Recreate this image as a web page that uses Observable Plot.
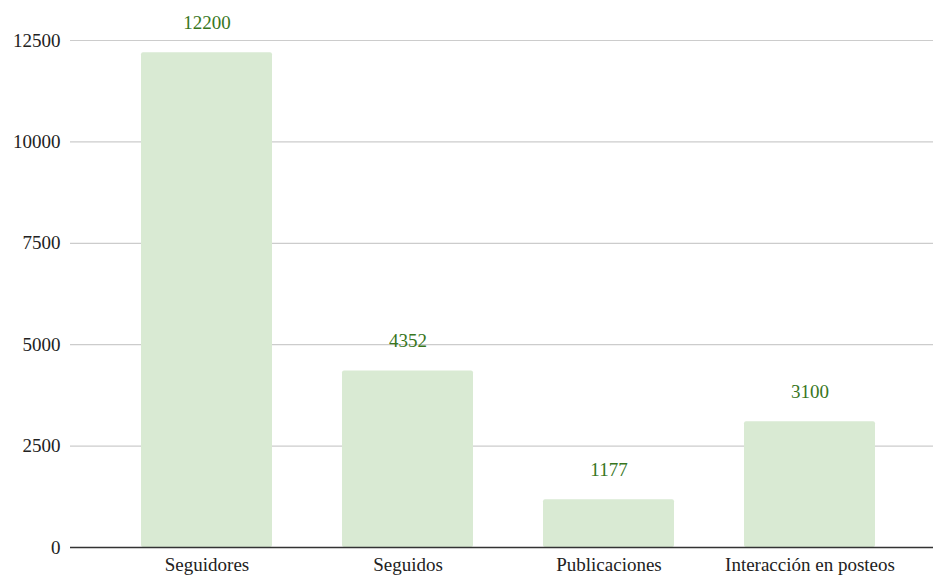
<!DOCTYPE html>
<html>
<head>
<meta charset="utf-8">
<script src="https://cdn.jsdelivr.net/npm/d3@7"></script>
<script src="https://cdn.jsdelivr.net/npm/@observablehq/plot@0.6"></script>
<style>
  html, body { margin: 0; padding: 0; background: #fff; }
  #chart svg { display: block; }
  #chart svg text { font-family: "Liberation Serif", serif !important; }
</style>
</head>
<body>
<div id="chart"></div>
<script>
const categories = ["Seguidores", "Seguidos", "Publicaciones", "Interacción en posteos"];
const values = [12200, 4352, 1177, 3100];
const yTicks = [0, 2500, 5000, 7500, 10000, 12500];

const data = categories.map((c, i) => ({category: c, value: values[i]}));
const FONT = "Liberation Serif";

const chart = Plot.plot({
  width: 933,
  height: 578,
  marginLeft: 70,
  marginRight: 0,
  marginTop: 40,
  marginBottom: 31,
  style: {fontSize: "19px", color: "#222", background: "#fff"},
  x: {domain: categories, paddingInner: 0.35, paddingOuter: 0.315, align: 0.55, label: null},
  y: {domain: [0, 12500], label: null},
  marks: [
    Plot.ruleY(yTicks.filter(d => d > 0), {stroke: "#cccccc", strokeWidth: 1.2}),
    Plot.barY(data, {x: "category", y: "value", fill: "#d9ead3", rx: 2}),
    Plot.ruleY([0], {stroke: "#333333", strokeWidth: 1.5}),
    Plot.text(data, {x: "category", y: "value", text: d => String(d.value), fill: "#38761d", lineAnchor: "bottom", dy: -24, fontSize: 19, fontFamily: FONT}),
    Plot.axisY({ticks: yTicks, tickSize: 0, tickPadding: 10, tickFormat: d => String(d), label: null, fontSize: 19, fontFamily: FONT}),
    Plot.axisX({tickSize: 0, tickPadding: 10, label: null, fontSize: 19, fontFamily: FONT})
  ]
});
chart.setAttribute("font-family", FONT);
chart.style.fontFamily = FONT;
chart.querySelectorAll("g").forEach(g => { if (g.hasAttribute("font-family")) g.setAttribute("font-family", FONT); });
chart.querySelectorAll("text").forEach(t => { t.setAttribute("font-family", FONT); t.style.fontFamily = FONT; });
document.getElementById("chart").appendChild(chart);
</script>
</body>
</html>
